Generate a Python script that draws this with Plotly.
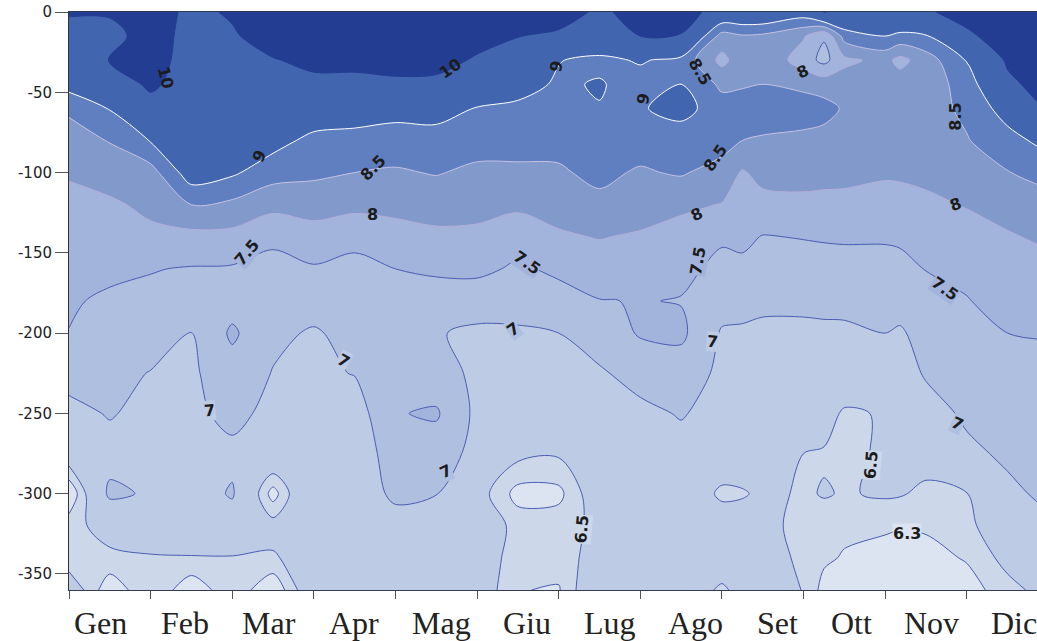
import plotly.graph_objects as go

months = ["Gen","Feb","Mar","Apr","Mag","Giu","Lug","Ago","Set","Ott","Nov","Dic"]
month_label_x = [0.39,1.42,2.45,3.49,4.56,5.61,6.63,7.68,8.68,9.59,10.57,11.58]
depths = [0,-15,-30,-45,-60,-80,-100,-120,-140,-160,-180,-200,-225,-250,-275,-300,-320,-340,-360]
x_pos = [0,0.5,1,1.5,2,2.5,3,3.5,4,4.5,5,5.5,6,6.5,7,7.5,8,8.25,8.5,9,9.25,9.5,10,10.18,10.5,11,11.5,12]

c00=[10.1,9.6,9.45,9.2,8.6,8.25,8.03,7.92,7.82,7.72,7.6,7.48,7.15,6.88,6.68,6.1,6.42,6.35,6.7]
c01=[10.1,9.7,10.02,9.5,9.03,8.53,8.2,7.93,7.85,7.7,7.35,7.25,7.15,7.03,6.85,7.08,6.6,6.45,6.15]
c02=[10.4,10.4,10.3,10.15,9.7,9.03,8.3,8.1,7.9,7.52,7.4,7.25,6.98,6.88,6.82,6.95,6.65,6.48,6.48]
c03=[9.8,9.7,9.7,9.6,9.5,9.4,9.3,8.5,7.85,7.47,7.3,6.98,6.92,6.9,6.85,6.8,6.75,6.48,6.15]
c04=[10.1,9.9,9.8,9.7,9.55,9.35,9.08,8.39,7.85,7.45,7.3,7.58,7.3,7.12,6.9,7.04,6.8,6.48,6.45]
c05=[10.6,10.4,9.95,9.8,9.6,9.2,8.7,8.15,7.6,7.35,7.2,7.1,6.98,6.88,6.8,6.2,6.6,6.47,6.12]
c06=[10.8,10.6,10.2,9.8,9.4,8.85,8.6,8.2,7.8,7.45,7.2,6.95,6.9,6.85,6.8,6.95,6.7,6.65,6.75]
c07=[10.9,10.7,10.2,9.8,9.4,8.75,8.5,8.15,7.6,7.4,7.3,7.15,7.02,6.75,6.75,6.85,6.8,6.75,6.7]
c08=[11,10.8,10.4,9.8,9.2,8.75,8.45,8.15,7.8,7.5,7.3,7.2,7.15,7.47,7.2,7.05,6.9,6.75,6.7]
c09=[11,10.8,10.3,9.8,9.25,8.75,8.53,8.2,7.9,7.55,7.35,7.03,7.2,7.56,7.25,7.01,6.85,6.75,6.7]
c10=[11,10.3,9.9,9.5,8.97,8.7,8.4,8.15,7.9,7.62,7.2,6.92,6.9,6.88,6.85,6.62,6.7,6.68,6.68]
c11=[10.7,10.02,9.6,9.2,8.9,8.7,8.4,8.1,7.7,7.42,7.15,6.95,6.9,6.85,6.57,6.22,6.42,6.38,6.31]
c12=[10.4,9.85,9.02,8.93,8.75,8.62,8.45,8.15,7.95,7.6,7.3,7.0,6.85,6.8,6.53,6.24,6.42,6.4,6.28]
c13=[9.85,9.5,8.88,9.04,8.98,8.6,8.6,8.4,8.02,7.8,7.48,7.2,6.95,6.85,6.75,6.7,6.55,6.6,6.8]
c14=[10.3,10.0,9.05,8.8,8.95,8.7,8.45,8.2,7.95,7.75,7.52,7.55,7.15,6.9,6.8,6.75,6.75,6.72,6.7]
c15=[10.4,9.95,8.85,9.0,9.2,8.7,8.55,8.1,7.8,7.6,7.48,7.6,7.25,7.03,6.85,6.85,6.8,6.75,6.7]
c16=[9.6,8.3,7.85,8.4,8.7,8.7,8.3,7.98,7.55,7.4,7.2,6.95,6.9,6.85,6.8,6.42,6.75,6.7,6.45]
c16b=[9.6,8.45,8.3,8.45,8.72,8.5,7.95,7.8,7.6,7.4,7.12,6.95,6.88,6.82,6.77,6.46,6.72,6.69,6.6]
c17=[9.6,8.4,8.4,8.5,8.75,8.45,8.15,7.85,7.48,7.35,7.05,6.95,6.85,6.8,6.75,6.58,6.65,6.68,6.65]
c18=[9.3,8.05,7.75,8.4,8.7,8.4,8.15,7.9,7.52,7.3,7.05,6.95,6.85,6.75,6.5,6.46,6.35,6.42,6.49]
c19=[10.02,7.55,7.35,8.3,8.65,8.35,8.15,7.87,7.55,7.28,7.08,6.94,6.82,6.65,6.47,6.52,6.38,6.34,6.22]
c20=[9.8,8.7,7.88,8.25,8.45,8.35,8.15,7.85,7.58,7.25,7.12,6.92,6.8,6.45,6.42,6.48,6.35,6.28,6.2]
c21=[9.75,9.0,8.15,8.3,8.3,8.2,8.05,7.85,7.58,7.25,7.1,7.0,6.85,6.53,6.55,6.53,6.34,6.2,6.1]
c22=[9.85,8.85,7.85,8.25,8.3,8.2,8.07,7.83,7.6,7.32,7.13,6.96,6.78,6.62,6.6,6.52,6.32,6.18,6.1]
c23=[9.9,8.95,8.25,8.25,8.3,8.2,8.12,7.9,7.65,7.52,7.25,7.12,7.05,6.8,6.6,6.45,6.33,6.22,6.1]
c24=[10.3,9.85,9.03,8.7,8.6,8.47,8.25,8.03,7.8,7.6,7.48,7.3,7.15,7.08,6.9,6.49,6.42,6.32,6.2]
c25=[10.9,10.4,10.1,9.85,9.25,8.8,8.48,8.2,7.95,7.75,7.65,7.5,7.3,7.22,7.08,6.9,6.75,6.58,6.42]
c26=[11,10.8,10.6,10.3,10.1,9.2,8.7,8.3,8.1,7.85,7.75,7.52,7.4,7.3,7.2,7.1,6.92,6.72,6.6]
columns = [c00,c01,c02,c03,c04,c05,c06,c07,c08,c09,c10,c11,c12,c13,c14,c15,c16,c16b,c17,c18,c19,c20,c21,c22,c23,c24,c25,c26]

levels = [6.3,6.5,7,7.5,8,8.5,9,10]
fills = ["#CDD7EA","#BECBE5","#AFBFE0","#A2B3DC","#819ACB","#5F7FC0","#4265AF","#233D92"]
lines = ["#4A5DB2","#4A5DB2","#4A5DB2","#4A5DB2","#B3AEDA","#C6C2E4","#FFFFFF","#233D92"]
base_fill = "#DCE4F2"
clear = "rgba(0,0,0,0)"

label_text = ["10","10","9","9","9","8.5","8.5","8.5","8.5","8","8","8","8","7.5","7.5","7.5","7.5","7","7","7","7","7","7","6.5","6.5","6.3"]
label_x = [1.18,4.67,2.33,5.97,7.04,3.73,7.73,7.91,10.86,3.72,7.69,8.99,10.86,2.18,5.61,7.71,10.73,5.44,7.88,3.36,1.72,10.88,4.61,6.29,9.83,10.27]
label_y = [-41,-35,-90,-34,-54,-97,-37,-91,-65,-126,-126,-37,-120,-150,-156,-155,-172,-198,-205,-217,-248,-256,-286,-322,-282,-325]
label_angle = [75,-35,-65,-80,-80,-45,60,-55,-90,0,-25,-25,-20,-50,35,-80,35,-35,5,30,-5,25,-25,-85,-85,0]
label_bg = [clear,clear,clear,clear,clear,clear,clear,clear,clear,clear,clear,clear,clear,"#A2B3DC","#A2B3DC","#A2B3DC","#A2B3DC","#AFBFE0","#BECBE5","#BECBE5","#BECBE5","#AFBFE0","#AFBFE0","#CDD7EA","#CDD7EA","#DCE4F2"]

z_rows = [list(r) for r in zip(*columns)][::-1]
y_rows = depths[::-1]

fig = go.Figure()
for lev, fc, lc in zip(levels, fills, lines):
    fig.add_trace(go.Contour(
        x=x_pos, y=y_rows, z=z_rows, showscale=False, hoverinfo="skip",
        contours=dict(type="constraint", operation="<=", value=lev),
        fillcolor=fc, line=dict(color=lc, width=1, smoothing=0.9),
    ))

annotations = []
for t, lx, ly, a, bg in zip(label_text, label_x, label_y, label_angle, label_bg):
    annotations.append(dict(x=lx, y=ly, xref="x", yref="y", text="<b>%s</b>" % t, showarrow=False,
                            textangle=a, bgcolor=bg, borderpad=0,
                            font=dict(family="DejaVu Sans", size=16, color="#1c1c1c")))
for name, lx in zip(months, month_label_x):
    annotations.append(dict(x=lx, y=0, xref="x", yref="paper", yanchor="middle", yshift=-33, text=name, showarrow=False,
                            font=dict(family="Liberation Serif", size=32, color="#222222")))

fig.update_layout(
    width=1037, height=641, margin=dict(l=69, r=0, t=12, b=51),
    paper_bgcolor="white", plot_bgcolor=base_fill, showlegend=False, annotations=annotations,
    xaxis=dict(range=[0, 11.86], tickvals=list(range(12)), showticklabels=False, ticks="outside",
               ticklen=8, tickcolor="#555555", tickwidth=1, showgrid=False, zeroline=False,
               showline=True, mirror=True, linecolor="#333a55", linewidth=1),
    yaxis=dict(range=[-360, 0], tickvals=[0,-50,-100,-150,-200,-250,-300,-350],
               ticktext=["0","-50","-100","-150","-200","-250","-300","-350"],
               ticks="outside", ticklen=13, tickcolor="#555555", tickwidth=1, showgrid=False, zeroline=False,
               showline=True, linecolor="#333333", linewidth=1,
               tickfont=dict(family="DejaVu Sans", size=15, color="#222222")),
)
fig.write_html("out.html", config={"displayModeBar": False}, post_script="document.body.style.margin='0';")
